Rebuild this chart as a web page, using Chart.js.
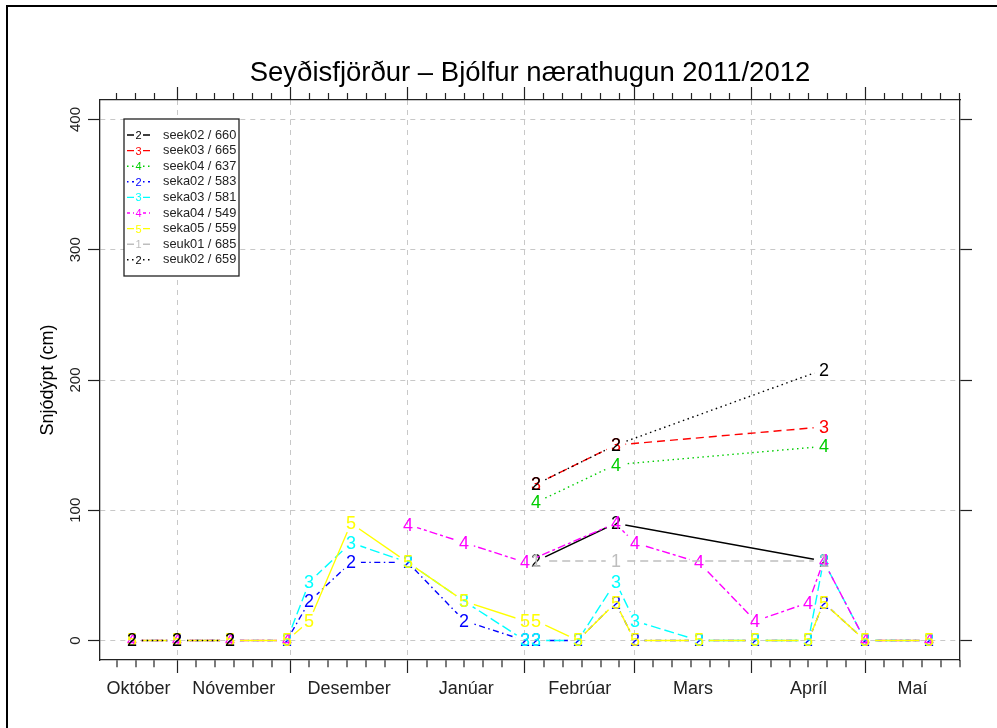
<!DOCTYPE html>
<html><head><meta charset="utf-8">
<script src="https://cdn.jsdelivr.net/npm/chart.js@4"></script>
<style>html,body{margin:0;padding:0;background:#fff}canvas{display:block}</style>
</head><body>
<canvas id="c" width="997" height="728" style="width:997px;height:728px"></canvas>
<script>
const FONT = "'Liberation Sans', Arial, Helvetica, sans-serif";
const TITLE = 'Seyðisfjörður – Bjólfur nærathugun 2011/2012';
const Y_TITLE = 'Snjódýpt (cm)';

// ---------- data ----------
const seriesLabels  = ['seek02 / 660','seek03 / 665','seek04 / 637','seka02 / 583','seka03 / 581','seka04 / 549','seka05 / 559','seuk01 / 685','seuk02 / 659'];
const seriesSymbols = ['2','3','4','2','3','4','5','1','2'];

const seek02Dates = ['2012-02-04','2012-02-25','2012-04-20'];
const seek02Depth = [61, 90, 61];
const seek03Dates = ['2012-02-04','2012-02-25','2012-04-20'];
const seek03Depth = [120, 150, 164];
const seek04Dates = ['2012-02-04','2012-02-25','2012-04-20'];
const seek04Depth = [106, 135, 149];
const seka02Dates = ['2011-10-20','2011-11-01','2011-11-15','2011-11-30','2011-12-06','2011-12-17','2012-01-01','2012-01-16','2012-02-01','2012-02-04','2012-02-15','2012-02-25','2012-03-01','2012-03-18','2012-04-02','2012-04-16','2012-04-20','2012-05-01','2012-05-18'];
const seka02Depth = [0, 0, 0, 0, 30, 60, 60, 15, 0, 0, 0, 29, 0, 0, 0, 0, 29, 0, 0];
const seka03Dates = ['2011-11-30','2011-12-06','2011-12-17','2012-01-01','2012-01-16','2012-02-01','2012-02-04','2012-02-15','2012-02-25','2012-03-01','2012-03-18','2012-04-02','2012-04-16','2012-04-20','2012-05-01','2012-05-18'];
const seka03Depth = [0, 45, 75, 60, 30, 0, 0, 0, 45, 15, 0, 0, 0, 61, 0, 0];
const seka04Dates = ['2011-10-20','2011-11-01','2011-11-15','2011-11-30','2011-12-06','2012-01-01','2012-01-16','2012-02-01','2012-02-25','2012-03-01','2012-03-18','2012-04-02','2012-04-16','2012-04-20','2012-05-01','2012-05-18'];
const seka04Depth = [0, 0, 0, 0, null, 89, 75, 60, 90, 75, 60, 15, 29, 61, 0, 0];
const seka05Dates = ['2011-10-20','2011-11-01','2011-11-15','2011-11-30','2011-12-06','2011-12-17','2012-01-01','2012-01-16','2012-02-01','2012-02-04','2012-02-15','2012-02-25','2012-03-01','2012-03-18','2012-04-02','2012-04-16','2012-04-20','2012-05-01','2012-05-18'];
const seka05Depth = [0, 0, 0, 0, 15, 90, 60, 30, 15, 15, 0, 29, 0, 0, 0, 0, 29, 0, 0];
const seuk01Dates = ['2012-02-04','2012-02-25','2012-04-20'];
const seuk01Depth = [61, 61, 61];
const seuk02Dates = ['2011-10-20','2011-11-01','2011-11-15','2011-11-30','2012-02-04','2012-02-25','2012-04-20'];
const seuk02Depth = [0, 0, 0, null, 120, 150, 208];

const monthNames  = ['Október','Nóvember','Desember','Janúar','Febrúar','Mars','Apríl','Maí'];
const monthStarts = ['2011-10-01','2011-11-01','2011-12-01','2012-01-01','2012-02-01','2012-03-01','2012-04-01','2012-05-01','2012-06-01'];
const minorTickDaysOfMonth = [1, 6, 11, 16, 21, 26];
const yTickValues = [0, 100, 200, 300, 400];

// ---------- styles ----------
const seriesColors = ['#000000','#FF0000','#00CD00','#0000FF','#00FFFF','#FF00FF','#FFFF00','#BEBEBE','#000000'];
const seriesDashes = [[], [8,5], [1.5,3.5], [1.5,3.5,6,3.5], [10,4], [3,3,8,3], [], [8,5], [1.5,3.5]];
const GRID = '#c8c8c8';
const AXIS = '#222222';
const GAP_R = 10;

// ---------- helpers ----------
const ORIGIN = Date.UTC(2011, 9, 1);
function dayNum(s) { const p = s.split('-').map(Number); return (Date.UTC(p[0], p[1]-1, p[2]) - ORIGIN) / 86400000; }
const X_MIN = 10.6, X_MAX = 238.1;
const Y_MIN = -15, Y_MAX = 415;

const monthStartDays = monthStarts.map(dayNum);
const majorSet = new Set(monthStartDays);
const tickDays = [];
monthStarts.forEach(ms => {
  const p = ms.split('-');
  minorTickDaysOfMonth.forEach(dd => {
    const v = dayNum(p[0] + '-' + p[1] + '-' + String(dd).padStart(2,'0'));
    if (v >= X_MIN - 1e-6 && v <= X_MAX + 1e-6) tickDays.push(v);
  });
});
const labelCenters = monthNames.map((n, i) => {
  const a = Math.max(monthStartDays[i], X_MIN), b = Math.min(monthStartDays[i+1], X_MAX);
  return (a + b) / 2;
});

function glyph(ch, color, size) {
  const c = document.createElement('canvas');
  c.width = 24; c.height = 24;
  const g = c.getContext('2d');
  g.font = size + 'px ' + FONT;
  g.fillStyle = color; g.textAlign = 'center'; g.textBaseline = 'alphabetic';
  g.fillText(ch, c.width/2, c.height/2 + size*0.358);
  return c;
}

const seriesDates = [seek02Dates, seek03Dates, seek04Dates, seka02Dates, seka03Dates, seka04Dates, seka05Dates, seuk01Dates, seuk02Dates];
const seriesDepth = [seek02Depth, seek03Depth, seek04Depth, seka02Depth, seka03Depth, seka04Depth, seka05Depth, seuk01Depth, seuk02Depth];

const datasets = seriesLabels.map((lab, i) => ({
  label: lab,
  data: seriesDates[i].map((d, j) => ({x: dayNum(d), y: seriesDepth[i][j]})),
  xAxisID: 'x', yAxisID: 'y',
  borderColor: seriesColors[i], backgroundColor: seriesColors[i],
  borderDash: seriesDashes[i], borderWidth: 1.4,
  pointStyle: glyph(seriesSymbols[i], seriesColors[i], 18),
  pointRadius: 4, pointHoverRadius: 4,
  spanGaps: false, tension: 0, fill: false,
  order: seriesLabels.length - 1 - i,
}));

const framePlugin = {
  id: 'frame',
  beforeDraw(chart) {
    const ctx = chart.ctx;
    ctx.save(); ctx.fillStyle = '#fff'; ctx.fillRect(0, 0, chart.width, chart.height); ctx.restore();
  },
  afterDraw(chart) {
    const ctx = chart.ctx;
    ctx.save(); ctx.strokeStyle = '#000'; ctx.lineWidth = 2;
    ctx.strokeRect(7, 6, chart.width + 20, chart.height + 20);
    ctx.restore();
  }
};

// R type="b": line segments stop short of the plotting symbols
const gapPlugin = {
  id: 'rGaps',
  beforeDatasetDraw(chart, args) {
    const ctx = chart.ctx;
    ctx.save();
    ctx.imageSmoothingEnabled = false;
    args.meta.data.forEach(pt => {
      if (pt.skip) return;
      ctx.beginPath();
      ctx.rect(0, 0, chart.width, chart.height);
      ctx.moveTo(pt.x + GAP_R, pt.y);
      ctx.arc(pt.x, pt.y, GAP_R, 0, Math.PI * 2);
      ctx.clip('evenodd');
    });
  },
  afterDatasetDraw(chart, args) {
    const ctx = chart.ctx;
    ctx.restore();
    ctx.save();
    ctx.imageSmoothingEnabled = false;
    args.meta.data.forEach(pt => { if (!pt.skip) pt.draw(ctx, chart.chartArea); });
    ctx.restore();
  }
};

const legendPlugin = {
  id: 'rLegend',
  afterDatasetsDraw(chart) {
    const {ctx, chartArea: a} = chart;
    const bx = a.left + 24, by = a.top + 19, bw = 115, bh = 157;
    ctx.save();
    ctx.fillStyle = '#fff'; ctx.fillRect(bx, by, bw, bh);
    ctx.strokeStyle = AXIS; ctx.lineWidth = 1.3; ctx.strokeRect(bx, by, bw, bh);
    chart.data.datasets.forEach((ds, i) => {
      const y = by + 16 + i * 15.6;
      ctx.save();
      ctx.strokeStyle = ds.borderColor; ctx.lineWidth = ds.borderWidth; ctx.setLineDash(ds.borderDash);
      ctx.beginPath(); ctx.moveTo(bx + 3, y); ctx.lineTo(bx + 10, y); ctx.moveTo(bx + 19, y); ctx.lineTo(bx + 26, y); ctx.stroke();
      ctx.restore();
      ctx.fillStyle = ds.borderColor; ctx.font = '11px ' + FONT; ctx.textAlign = 'center'; ctx.textBaseline = 'alphabetic';
      ctx.fillText(seriesSymbols[i], bx + 14.5, y + 4);
      ctx.fillStyle = '#222'; ctx.font = '12.8px ' + FONT; ctx.textAlign = 'left'; ctx.textBaseline = 'middle';
      ctx.fillText(ds.label, bx + 39, y);
    });
    ctx.restore();
  }
};

const isMajor = v => majorSet.has(v);

new Chart(document.getElementById('c'), {
  type: 'line',
  data: {datasets},
  options: {
    responsive: false, animation: false, devicePixelRatio: 1,
    layout: {padding: {left: 0, right: 25, top: 0, bottom: 0}},
    plugins: {
      legend: {display: false},
      tooltip: {enabled: false},
      title: {display: true, text: TITLE, fullSize: false, color: '#000',
        font: {family: FONT, size: 27.5, weight: 'normal', lineHeight: 1},
        padding: {top: 59.5, bottom: 0}}
    },
    scales: {
      x: {
        type: 'linear', axis: 'x', position: 'bottom', weight: 0, min: X_MIN, max: X_MAX, bounds: 'data',
        afterBuildTicks: s => { s.ticks = tickDays.map(v => ({value: v})); },
        afterFit: s => { s.height = 13; },
        ticks: {display: false},
        grid: {
          drawOnChartArea: true, drawTicks: true, tickLength: 13,
          color: c => isMajor(c.tick.value) ? GRID : 'rgba(0,0,0,0)',
          lineWidth: c => isMajor(c.tick.value) ? 1 : 0,
          tickColor: AXIS, tickWidth: 1.2,
          tickBorderDash: c => isMajor(c.tick.value) ? [] : [7, 100]
        },
        border: {display: true, color: AXIS, width: 1.3, dash: [5, 5]}
      },
      xl: {
        type: 'linear', axis: 'x', position: 'bottom', weight: 1, min: X_MIN, max: X_MAX, bounds: 'data',
        afterBuildTicks: s => { s.ticks = labelCenters.map(v => ({value: v})); },
        afterFit: s => { s.height = 55; },
        ticks: {display: true, autoSkip: false, maxRotation: 0, minRotation: 0, padding: 5,
          color: AXIS, font: {family: FONT, size: 18},
          callback: (v, i) => monthNames[i]},
        grid: {display: false, drawTicks: false},
        border: {display: false}
      },
      x2: {
        type: 'linear', axis: 'x', position: 'top', min: X_MIN, max: X_MAX, bounds: 'data',
        afterBuildTicks: s => { s.ticks = tickDays.map(v => ({value: v})); },
        afterFit: s => { s.height = 13; },
        ticks: {display: false},
        grid: {
          drawOnChartArea: false, drawTicks: true, tickLength: 13,
          tickColor: AXIS, tickWidth: 1.2,
          tickBorderDash: c => isMajor(c.tick.value) ? [] : [7, 100],
          tickBorderDashOffset: c => isMajor(c.tick.value) ? 0 : 101
        },
        border: {display: true, color: AXIS, width: 1.3}
      },
      y: {
        type: 'linear', axis: 'y', position: 'left', min: Y_MIN, max: Y_MAX, bounds: 'data',
        afterBuildTicks: s => { s.ticks = yTickValues.map(v => ({value: v})); },
        afterFit: s => { s.width = 100; },
        ticks: {display: true, minRotation: 90, maxRotation: 90, crossAlign: 'center', padding: 0,
          color: AXIS, font: {family: FONT, size: 15}},
        grid: {drawOnChartArea: true, drawTicks: true, tickLength: 12, color: GRID, lineWidth: 1,
          tickColor: AXIS, tickWidth: 1.2},
        border: {display: true, color: AXIS, width: 1.3, dash: [5, 5]},
        title: {display: true, text: Y_TITLE, color: '#000', font: {family: FONT, size: 18},
          padding: {top: 37, bottom: 0}}
      },
      y2: {
        type: 'linear', axis: 'y', position: 'right', min: Y_MIN, max: Y_MAX, bounds: 'data',
        afterBuildTicks: s => { s.ticks = yTickValues.map(v => ({value: v})); },
        afterFit: s => { s.width = 12; },
        ticks: {display: false},
        grid: {drawOnChartArea: false, drawTicks: true, tickLength: 12, tickColor: AXIS, tickWidth: 1.2},
        border: {display: true, color: AXIS, width: 1.3}
      }
    }
  },
  plugins: [framePlugin, gapPlugin, legendPlugin]
});
</script>
</body></html>
